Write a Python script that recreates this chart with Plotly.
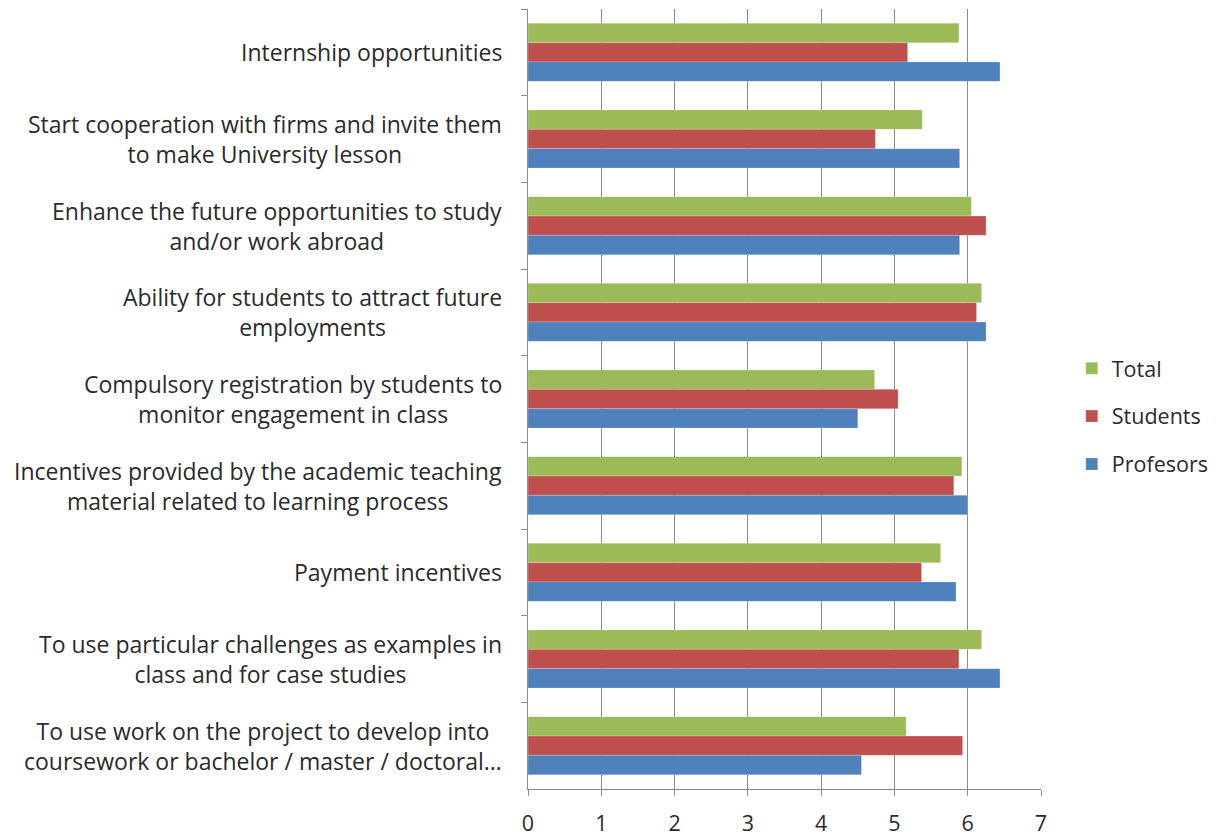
import plotly.graph_objects as go

categories = [
    "Internship opportunities",
    "Start cooperation with firms and invite them<br>to make University lesson",
    "Enhance the future opportunities to study<br>and/or work abroad",
    "Ability for students to attract future<br>employments",
    "Compulsory registration by students to<br>monitor engagement in class",
    "Incentives provided by the academic teaching<br>material related to learning process",
    "Payment incentives",
    "To use particular challenges as examples in<br>class and for case studies",
    "To use work on the project to develop into<br>coursework or bachelor / master / doctoral...",
]

total = [5.88, 5.38, 6.05, 6.19, 4.73, 5.92, 5.63, 6.19, 5.16]
students = [5.18, 4.74, 6.25, 6.12, 5.05, 5.81, 5.37, 5.88, 5.93]
profesors = [6.44, 5.89, 5.89, 6.25, 4.50, 6.00, 5.84, 6.44, 4.55]

series = [
    ("Total", total, "#9BBB59"),
    ("Students", students, "#C0504D"),
    ("Profesors", profesors, "#4F81BD"),
]

FONT = "Open Sans"
TEXT = "#2B2B2B"

fig = go.Figure()
for name, vals, color in series:
    fig.add_trace(go.Bar(
        y=categories, x=vals, name=name, orientation="h",
        marker=dict(color=color, line=dict(color="rgba(255,255,255,0.35)", width=0.6)),
        legendgroup=name,
    ))

# category labels: block right-aligned against the axis, lines centered
for cat in categories:
    fig.add_annotation(
        x=0, y=cat, xref="x", yref="y", text=cat, showarrow=False,
        xanchor="right", align="center", xshift=-24,
        font=dict(family=FONT, size=23, color=TEXT),
    )

fig.update_layout(
    width=1225, height=839,
    margin=dict(l=528, r=184, t=9, b=50, autoexpand=False),
    paper_bgcolor="white", plot_bgcolor="white",
    barmode="group", bargap=0.33, bargroupgap=0,
    font=dict(family=FONT, size=21, color=TEXT),
    showlegend=True,
    legend=dict(
        x=1.06, y=0.478, xanchor="left", yanchor="middle",
        traceorder="grouped", tracegroupgap=17,
        font=dict(family=FONT, size=21.5, color=TEXT),
    ),
    xaxis=dict(
        range=[0, 7], dtick=1, tick0=0,
        showgrid=True, gridcolor="#8C8C8C", gridwidth=1,
        showline=True, linecolor="#8C8C8C", linewidth=1,
        ticks="outside", ticklen=6, tickcolor="#8C8C8C",
        ticklabelstandoff=9, automargin=False,
        tickfont=dict(family=FONT, size=21.5, color=TEXT),
        zeroline=False,
    ),
    yaxis=dict(
        type="category", autorange="reversed",
        showticklabels=False, automargin=False,
        showline=True, linecolor="#8C8C8C", linewidth=1,
        ticks="outside", ticklen=6, tickcolor="#8C8C8C", tickson="boundaries",
        showgrid=False, zeroline=False,
    ),
)

fig.write_html("out.html")
